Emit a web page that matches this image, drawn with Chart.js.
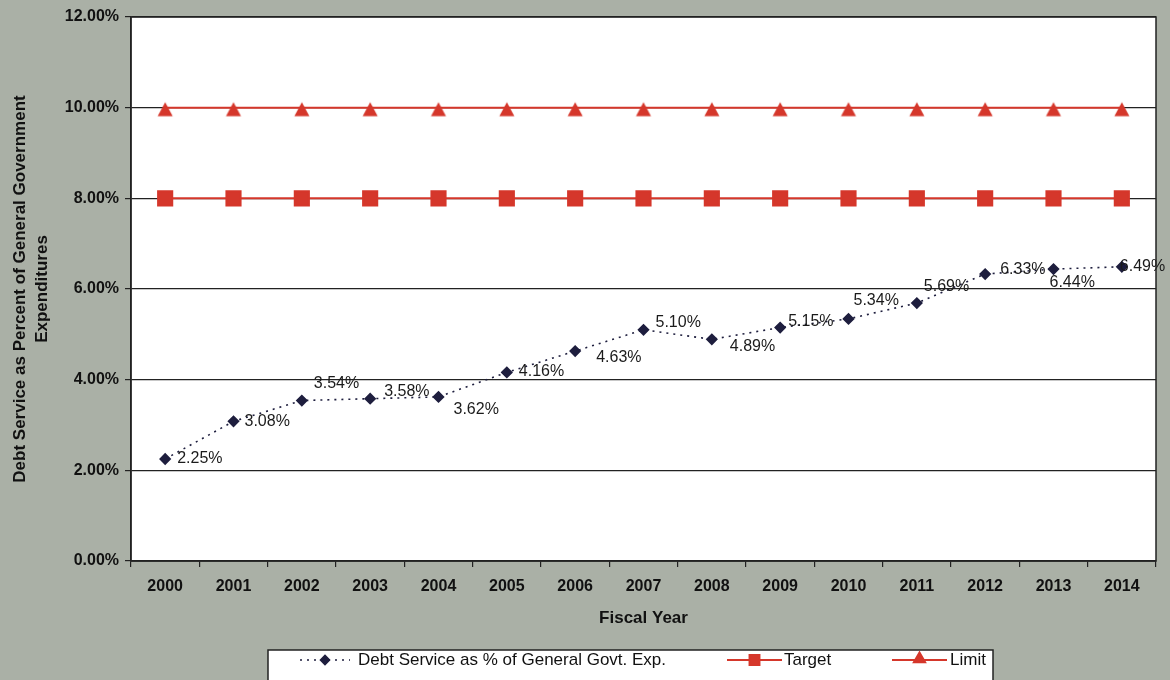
<!DOCTYPE html>
<html>
<head>
<meta charset="utf-8">
<title>Debt Service as Percent of General Government Expenditures</title>
<script src="https://cdn.jsdelivr.net/npm/chart.js@4.4.1/dist/chart.umd.min.js"></script>
<style>
  html, body { margin: 0; padding: 0; background: #aab0a6; }
  canvas { display: block; }
</style>
</head>
<body>
<canvas id="chart" width="1170" height="680"></canvas>
<script>
// Fiscal years on the x axis
const fiscalYears = ['2000', '2001', '2002', '2003', '2004', '2005', '2006', '2007',
                     '2008', '2009', '2010', '2011', '2012', '2013', '2014'];

// Debt service as % of general government expenditures
const debtServicePct = [2.25, 3.08, 3.54, 3.58, 3.62, 4.16, 4.63, 5.10,
                        4.89, 5.15, 5.34, 5.69, 6.33, 6.44, 6.49];

// Policy target and limit (percent)
const targetPct = [8, 8, 8, 8, 8, 8, 8, 8, 8, 8, 8, 8, 8, 8, 8];
const limitPct = [10, 10, 10, 10, 10, 10, 10, 10, 10, 10, 10, 10, 10, 10, 10];

// Y axis tick values
const yTicks = [0, 2, 4, 6, 8, 10, 12];

// Where each value label sits relative to its point: [dx to text start, dy to text middle]
const labelOffsets = [
  [12, 0], [11, 0], [12, -17], [14, -7], [15, 13], [12, -1], [21, 6], [12, -7],
  [18, 7], [8, -6], [5, -18], [7, -16], [15, -4], [-4, 14], [-2, 0]
];

const RED = '#d5372b';
const NAVY = '#1e1e3e';
const FONT = '"Liberation Sans", Arial, sans-serif';

// Triangle marker whose line crosses a little below its apex
function makeTriangleMarker(color) {
  const c = document.createElement('canvas');
  c.width = 20;
  c.height = 20;
  const g = c.getContext('2d');
  g.fillStyle = color;
  g.beginPath();
  g.moveTo(10, 4.5);
  g.lineTo(17.5, 18.5);
  g.lineTo(2.5, 18.5);
  g.closePath();
  g.fill();
  return c;
}
const triangleMarker = makeTriangleMarker(RED);

// White plot area with a full black frame
const plotFrame = {
  id: 'plotFrame',
  beforeDraw(chart) {
    const { ctx, chartArea: a } = chart;
    ctx.save();
    ctx.fillStyle = '#ffffff';
    ctx.fillRect(a.left, a.top, a.right - a.left, a.bottom - a.top);
    ctx.restore();
  },
  afterDraw(chart) {
    const { ctx, chartArea: a } = chart;
    ctx.save();
    ctx.strokeStyle = '#222222';
    ctx.lineWidth = 1.5;
    ctx.strokeRect(a.left, a.top, a.right - a.left, a.bottom - a.top);
    ctx.restore();
  }
};

// Value labels for the debt service series
const valueLabels = {
  id: 'valueLabels',
  afterDatasetsDraw(chart) {
    const { ctx } = chart;
    const meta = chart.getDatasetMeta(0);
    ctx.save();
    ctx.font = '16px ' + FONT;
    ctx.fillStyle = '#1b1b1b';
    ctx.textAlign = 'left';
    ctx.textBaseline = 'middle';
    meta.data.forEach((pt, i) => {
      const [dx, dy] = labelOffsets[i];
      const text = debtServicePct[i].toFixed(2) + '%';
      ctx.fillText(text, pt.x + dx, pt.y + dy);
    });
    ctx.restore();
  }
};

// Boxed legend along the bottom edge: line sample with marker, then the label
const boxedLegend = {
  id: 'boxedLegend',
  afterDraw(chart) {
    const { ctx } = chart;
    const box = { x: 268, y: 650, w: 725, h: 45 };
    ctx.save();
    ctx.fillStyle = '#ffffff';
    ctx.fillRect(box.x, box.y, box.w, box.h);
    ctx.strokeStyle = '#222222';
    ctx.lineWidth = 1.5;
    ctx.strokeRect(box.x, box.y, box.w, box.h);

    const cy = 660;
    const entries = [
      { ds: 0, x0: 300, x1: 350, tx: 358, marker: { pointStyle: 'rectRot', radius: 4.5 } },
      { ds: 1, x0: 727, x1: 782, tx: 784, marker: { pointStyle: 'rect', radius: 7 } },
      { ds: 2, x0: 892, x1: 947, tx: 950, marker: { pointStyle: 'triangle', radius: 6.5 } }
    ];
    entries.forEach(e => {
      const ds = chart.data.datasets[e.ds];
      ctx.save();
      ctx.strokeStyle = ds.borderColor;
      ctx.lineWidth = ds.borderWidth;
      ctx.setLineDash(ds.borderDash || []);
      ctx.beginPath();
      ctx.moveTo(e.x0, cy);
      ctx.lineTo(e.x1, cy);
      ctx.stroke();
      ctx.setLineDash([]);
      ctx.fillStyle = ds.borderColor;
      ctx.strokeStyle = ds.borderColor;
      const my = e.marker.pointStyle === 'triangle' ? cy - 1 : cy;
      Chart.helpers.drawPoint(ctx, {
        pointStyle: e.marker.pointStyle,
        radius: e.marker.radius,
        rotation: 0,
        borderWidth: 1
      }, (e.x0 + e.x1) / 2, my);
      ctx.restore();
      ctx.fillStyle = '#111111';
      ctx.font = '17px ' + FONT;
      ctx.textAlign = 'left';
      ctx.textBaseline = 'middle';
      ctx.fillText(ds.label, e.tx, cy);
    });
    ctx.restore();
  }
};

const ctx = document.getElementById('chart').getContext('2d');

new Chart(ctx, {
  type: 'line',
  data: {
    labels: fiscalYears,
    datasets: [
      {
        label: 'Debt Service as % of General Govt. Exp.',
        data: debtServicePct,
        borderColor: NAVY,
        backgroundColor: NAVY,
        borderWidth: 1.6,
        borderDash: [2, 5],
        pointStyle: 'rectRot',
        pointRadius: 5,
        pointBackgroundColor: NAVY,
        pointBorderColor: NAVY,
        tension: 0,
        order: 0
      },
      {
        label: 'Target',
        data: targetPct,
        borderColor: RED,
        backgroundColor: RED,
        borderWidth: 2,
        pointStyle: 'rect',
        pointRadius: 10,
        pointBackgroundColor: RED,
        pointBorderColor: RED,
        tension: 0,
        order: 1
      },
      {
        label: 'Limit',
        data: limitPct,
        borderColor: RED,
        backgroundColor: RED,
        borderWidth: 2,
        pointStyle: triangleMarker,
        pointRadius: 9,
        pointBackgroundColor: RED,
        pointBorderColor: RED,
        tension: 0,
        order: 2
      }
    ]
  },
  options: {
    responsive: false,
    animation: false,
    devicePixelRatio: 1,
    layout: { padding: { left: 0, top: 17, right: 14, bottom: 40 } },
    plugins: {
      legend: { display: false },
      tooltip: { enabled: false }
    },
    scales: {
      x: {
        type: 'category',
        offset: true,
        border: { display: true, color: '#222222', width: 1.5 },
        grid: {
          offset: true,
          drawOnChartArea: false,
          drawTicks: true,
          tickLength: 6,
          color: '#222222',
          lineWidth: 1.2
        },
        ticks: {
          color: '#111111',
          padding: 10,
          maxRotation: 0,
          autoSkip: false,
          font: { family: FONT, size: 16, weight: 'bold' }
        },
        title: {
          display: true,
          text: 'Fiscal Year',
          color: '#111111',
          padding: { top: 0, bottom: 11 },
          font: { family: FONT, size: 17, weight: 'bold' }
        },
        afterFit(scale) { scale.height = 79; }
      },
      y: {
        min: 0,
        max: 12,
        border: { display: true, color: '#222222', width: 1.5 },
        grid: {
          color: '#222222',
          lineWidth: 1.2,
          tickLength: 6
        },
        afterBuildTicks(scale) {
          scale.ticks = yTicks.map(v => ({ value: v }));
        },
        ticks: {
          color: '#111111',
          padding: 6,
          callback: v => Number(v).toFixed(2) + '%',
          font: { family: FONT, size: 16, weight: 'bold' }
        },
        title: {
          display: true,
          text: ['Debt Service as Percent of General Government', 'Expenditures'],
          color: '#111111',
          padding: { top: 9, bottom: 0 },
          font: { family: FONT, size: 17, weight: 'bold', lineHeight: 1.3 }
        },
        afterFit(scale) { scale.width = 131; }
      }
    }
  },
  plugins: [plotFrame, valueLabels, boxedLegend]
});
</script>
</body>
</html>
